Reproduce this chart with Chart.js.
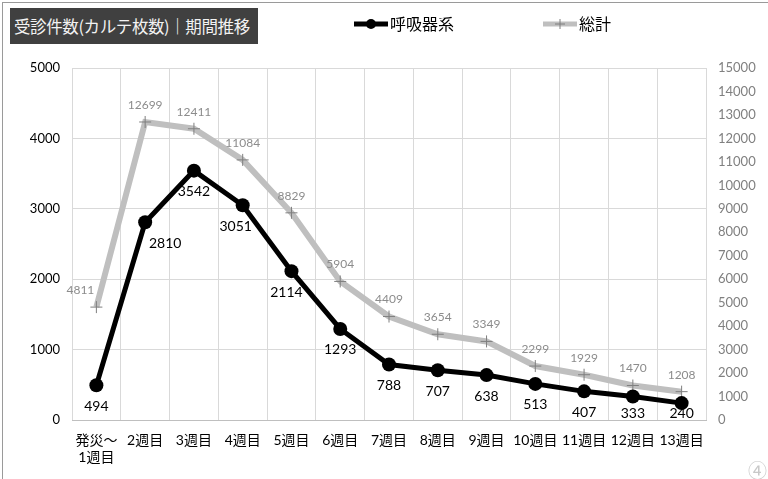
<!DOCTYPE html>
<html>
<head>
<meta charset="utf-8">
<script src="https://cdn.jsdelivr.net/npm/chart.js@4/dist/chart.umd.min.js"></script>
<style>
  html, body { margin:0; padding:0; background:#fff; }
  #wrap { position:relative; width:768px; height:479px; overflow:hidden; }
  #frame { position:absolute; left:2px; top:2px; width:800px; height:500px; border-left:1px solid #9a9a9a; border-top:1px solid #9a9a9a; }
  #title { position:absolute; left:10px; top:8px; width:248px; height:36px; background:#404040; color:#f2f2f2;
           font-family:'Noto Sans CJK JP', sans-serif; font-size:16.5px; line-height:36px; padding-left:4px; box-sizing:border-box; letter-spacing:-0.4px; white-space:nowrap; }
  .leg { position:absolute; top:12px; font-family:'Noto Sans CJK JP', sans-serif; font-size:16px; color:#000; line-height:22px; white-space:nowrap; }
  #num { position:absolute; left:748px; top:456px; font-family:'Noto Sans CJK JP', sans-serif; font-size:19px; color:#c8c8c8; }
  canvas { position:absolute; left:0; top:0; }
</style>
</head>
<body>
<div id="wrap">
  <canvas id="c" width="768" height="479"></canvas>
  <div id="frame"></div>
  <div id="title">受診件数(カルテ枚数)｜期間推移</div>
  <div class="leg" style="left:354px;"><canvas id="lg1" width="36" height="22" style="position:static;vertical-align:top;"></canvas>呼吸器系</div>
  <div class="leg" style="left:543px;"><canvas id="lg2" width="36" height="22" style="position:static;vertical-align:top;"></canvas><span style="color:#000">総計</span></div>
  <div id="num">④</div>
</div>
<script>
const categories = [["発災～","1週目"],"2週目","3週目","4週目","5週目","6週目","7週目","8週目","9週目","10週目","11週目","12週目","13週目"];
const respiratory = [494,2810,3542,3051,2114,1293,788,707,638,513,407,333,240];
const total = [4811,12699,12411,11084,8829,5904,4409,3654,3349,2299,1929,1470,1208];
const leftTicks = [0,1000,2000,3000,4000,5000];
const rightTicks = [0,1000,2000,3000,4000,5000,6000,7000,8000,9000,10000,11000,12000,13000,14000,15000];

// label placement tweaks (style only)
const respLabelDx = [0,20,0,-7,-5,0,0,0,0,0,0,0,0];
const totalLabelDx = [-16,0,0,0,0,0,0,0,0,0,0,0,0];

const NUMFONT = "Lato, 'Noto Sans CJK JP', sans-serif";

const labelPlugin = {
  id: 'valLabels',
  afterDatasetsDraw(chart) {
    const ctx = chart.ctx;
    const area = chart.chartArea;
    ctx.save();
    ctx.textAlign = 'center';
    ctx.textBaseline = 'middle';
    const m1 = chart.getDatasetMeta(1);
    ctx.font = "12px " + NUMFONT;
    ctx.fillStyle = '#8c8c8c';
    m1.data.forEach((pt, i) => {
      ctx.fillText(String(total[i]), pt.x + totalLabelDx[i], pt.y - 17);
    });
    const m0 = chart.getDatasetMeta(0);
    ctx.font = "14px " + NUMFONT;
    ctx.fillStyle = '#000';
    m0.data.forEach((pt, i) => {
      let y = Math.min(pt.y + 21, area.bottom - 7);
      ctx.fillText(String(respiratory[i]), pt.x + respLabelDx[i], y);
    });
    ctx.restore();
  }
};

new Chart(document.getElementById('c'), {
  type: 'line',
  data: {
    labels: categories,
    datasets: [
      {
        label: '呼吸器系',
        data: respiratory,
        yAxisID: 'y',
        borderColor: '#000',
        backgroundColor: '#000',
        borderWidth: 5,
        pointRadius: 7,
        pointHoverRadius: 7,
        pointBorderWidth: 0,
        pointStyle: 'circle',
        tension: 0,
        clip: false
      },
      {
        label: '総計',
        data: total,
        yAxisID: 'y1',
        borderColor: '#bfbfbf',
        backgroundColor: '#7f7f7f',
        borderWidth: 6,
        pointStyle: 'cross',
        pointRadius: 6,
        pointHoverRadius: 6,
        pointBorderColor: '#7f7f7f',
        pointBorderWidth: 1,
        tension: 0,
        clip: false
      }
    ]
  },
  options: {
    responsive: false,
    animation: false,
    events: [],
    layout: { padding: { top: 68, left: 0, right: 0, bottom: 9 } },
    plugins: { legend: { display: false }, tooltip: { enabled: false }, title: { display: false } },
    scales: {
      x: {
        type: 'category',
        offset: true,
        grid: { display: true, offset: true, color: '#d9d9d9', lineWidth: 1, drawTicks: false },
        border: { display: true, color: '#bfbfbf', width: 1 },
        ticks: { color: '#000', font: { family: NUMFONT, size: 14 }, maxRotation: 0, minRotation: 0, autoSkip: false, padding: 12 },
        afterFit(s) { s.height = 50; }
      },
      y: {
        position: 'left',
        min: 0, max: 5000,
        afterBuildTicks(s) { s.ticks = leftTicks.map(v => ({ value: v })); },
        grid: { color: '#d9d9d9', lineWidth: 1, drawTicks: false },
        border: { display: false },
        ticks: { color: '#000', font: { family: NUMFONT, size: 13 }, padding: 12, callback: v => String(v) },
        afterFit(s) { s.width = 72; }
      },
      y1: {
        position: 'right',
        min: 0, max: 15000,
        afterBuildTicks(s) { s.ticks = rightTicks.map(v => ({ value: v })); },
        grid: { display: false, drawTicks: false },
        border: { display: false },
        ticks: { color: '#808080', font: { family: NUMFONT, size: 13 }, padding: 12, callback: v => String(v) },
        afterFit(s) { s.width = 62; }
      }
    }
  },
  plugins: [labelPlugin]
});

(function(){
  const a = document.getElementById('lg1').getContext('2d');
  a.strokeStyle = '#000'; a.lineWidth = 5; a.beginPath(); a.moveTo(0,12); a.lineTo(34,12); a.stroke();
  a.fillStyle = '#000'; a.beginPath(); a.arc(17,12,5,0,Math.PI*2); a.fill();
  const b = document.getElementById('lg2').getContext('2d');
  b.strokeStyle = '#bfbfbf'; b.lineWidth = 5; b.beginPath(); b.moveTo(0,12); b.lineTo(34,12); b.stroke();
  b.strokeStyle = '#7f7f7f'; b.lineWidth = 1; b.beginPath(); b.moveTo(12,12); b.lineTo(22,12); b.moveTo(17,7); b.lineTo(17,17); b.stroke();
})();
</script>
</body>
</html>
